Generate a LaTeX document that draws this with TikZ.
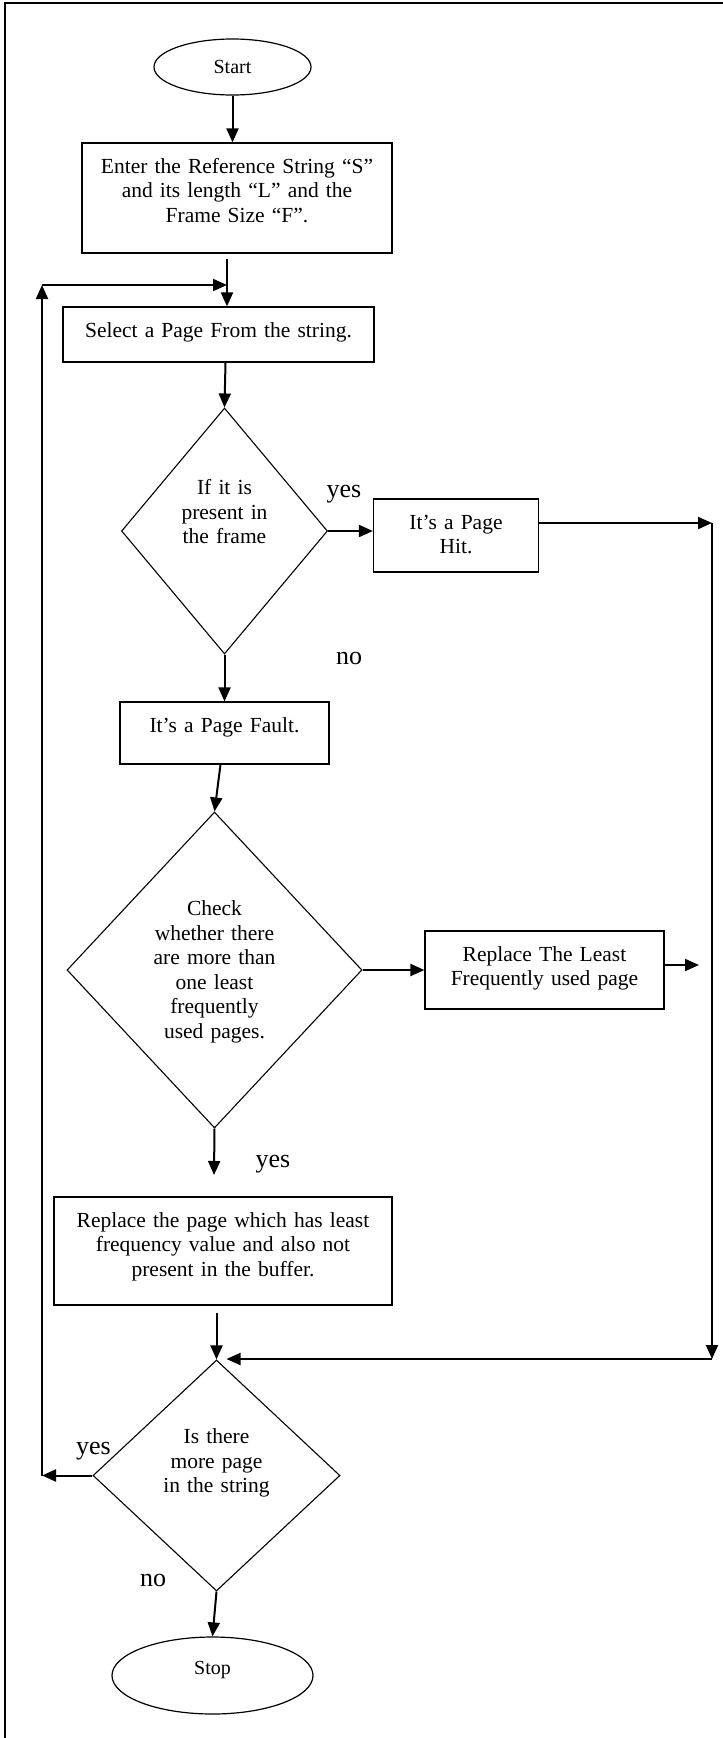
\documentclass[tikz,border=0pt]{standalone}
\usepackage{fontspec}
\setmainfont{Liberation Serif}
\usetikzlibrary{shapes.geometric, arrows.meta}

\begin{document}
\begin{tikzpicture}[x=1pt, y=-1pt,
  >={Triangle[length=14pt, width=12pt]},
  term/.style={ellipse, draw, line width=1.2pt, font=\fontsize{20}{24}\selectfont},
  proc/.style={rectangle, draw, line width=1.2pt, inner ysep=0pt, inner xsep=5pt,
    align=center, text height=30pt, font=\fontsize{21.5}{24.5}\selectfont},
  decision/.style={diamond, draw, line width=1.1pt, inner sep=0pt, align=center,
    text height=16pt, font=\fontsize{21.5}{24.5}\selectfont},
  arr/.style={->, line width=2pt},
  lab/.style={inner sep=0pt, font=\fontsize{26}{30}\selectfont}]
  \useasboundingbox (0,0) rectangle (723,1738);
  % page frame, top and left only
  \draw[line width=2pt] (723,3) -- (5,3) -- (5,1738);
  % Start and input
  \node[term, minimum width=157pt, minimum height=56pt] (start) at (232.5,67) {Start};
  \node[proc, text width=290pt, minimum width=310pt, text depth=80pt] (enter) at (237,198)
    {Enter the Reference String “S”\\and its length “L” and the\\Frame Size “F”.};
  \node[proc, text width=295pt, minimum width=311pt, text depth=25pt] (select) at (218.5,334.5)
    {Select a Page From the string.};
  % first test
  \node[decision, text width=100pt, minimum width=206pt, minimum height=246pt, text depth=89pt]
    (d1) at (224.5,531) {If it is\\present in\\the frame};
  \node[proc, text width=150pt, minimum width=165pt, text depth=43pt] (hit) at (456,535.5)
    {It’s a Page\\Hit.};
  \node[proc, text width=195pt, minimum width=209pt, text depth=32pt] (fault) at (224.5,733)
    {It’s a Page Fault.};
  % second test
  \node[decision, text width=130pt, minimum width=295pt, minimum height=316pt, text depth=125pt]
    (d2) at (214.5,970) {Check\\whether there\\are more than\\one least\\frequently\\used pages.};
  \node[proc, text width=225pt, minimum width=239pt, text depth=48pt] (lfu) at (544.5,970)
    {Replace The Least\\Frequently used page};
  \node[proc, text width=325pt, minimum width=338pt, text depth=78pt] (replace) at (223,1251)
    {Replace the page which has least\\frequency value and also not\\present in the buffer.};
  % last test and Stop
  \node[decision, text width=115pt, minimum width=247pt, minimum height=231pt, text depth=80pt]
    (d3) at (216.5,1475.5) {Is there\\more page\\in the string};
  \node[term, minimum width=201pt, minimum height=77pt, text height=13.5pt, text depth=16.5pt]
    (stop) at (212.5,1675.5) {Stop};
  % yes / no
  \node[lab] (yes1) at (344,494) {yes};
  \node[lab] (no1) at (349,658) {no};
  \node[lab] (yes2) at (273,1164) {yes};
  \node[lab] (yes3) at (93.5,1451) {yes};
  \node[lab] (no3) at (153,1580) {no};
  % corners of the two return lines
  \coordinate (join) at (227,285);
  \coordinate (lt) at (42,285);
  \coordinate (lb) at (42,1475.5);
  \coordinate (rt) at (712,523);
  \coordinate (rb) at (712,1359);
  \coordinate (lfuend) at (699,965);
  \coordinate (d2end) at (214,1175);
  % main line
  \draw[arr] (start.south) -- (start.south |- enter.north);
  \draw[arr] ([yshift=-5pt]enter.south -| join) -- (select.north -| join);
  \draw[arr] ([xshift=7pt]select.south) -- (d1.north);
  \draw[arr] (d1.east) -- (d1.east -| hit.west);
  \draw[arr] (d1.south) -- (fault.north);
  \draw[arr] ([xshift=-4pt]fault.south) -- (d2.north);
  \draw[arr] (d2.east) -- (lfu.west);
  \draw[arr] (lfuend -| lfu.east) -- (lfuend);
  \draw[arr] (d2.south) -- (d2end);
  \draw[arr] ([yshift=-7pt]replace.south -| d3.north) -- (d3.north);
  \draw[arr] (d3.south) -- (stop.north);
  % hit path on the right
  \draw[arr] (rt -| hit.east) -- (rt);
  \draw[arr] (rt) -- (rb);
  \draw[arr] (rb) -- ([xshift=10pt]rb -| d3.north);
  % loop back on the left
  \draw[arr] (d3.west) -- (lb);
  \draw[arr] (lb) -- (lt);
  \draw[arr] (lt) -- (join);
\end{tikzpicture}
\end{document}
